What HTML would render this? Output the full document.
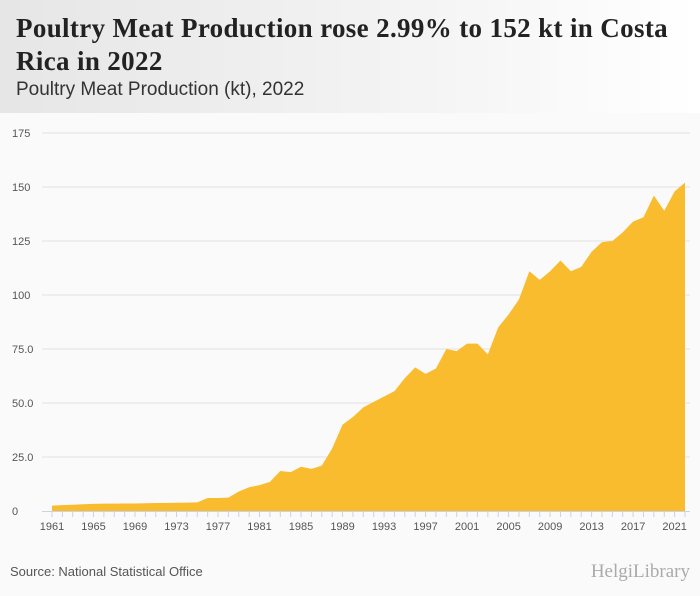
<!DOCTYPE html>
<html><head><meta charset="utf-8"><style>
body{margin:0;width:700px;height:596px;background:#fafafa;font-family:"Liberation Sans",sans-serif;overflow:hidden;position:relative}
#hdr{position:absolute;left:0;top:0;width:700px;height:113px;background:linear-gradient(90deg,#e6e6e6,#f4f4f4 60%,#fff)}
#title{position:absolute;left:16px;top:12px;font:bold 27px/33px "Liberation Serif",serif;letter-spacing:0.35px;color:#222;width:680px}
#sub{position:absolute;left:16px;top:79px;font-size:19px;color:#333}
#src{position:absolute;left:10px;top:564px;font-size:13px;color:#555}
#logo{position:absolute;right:10px;top:561px;font:19px "Liberation Serif",serif;color:#aaa}
</style></head><body>
<div id="hdr"></div>
<div id="title">Poultry Meat Production rose 2.99% to 152 kt in Costa Rica in 2022</div>
<div id="sub">Poultry Meat Production (kt), 2022</div>
<svg id="chart" width="700" height="596" style="position:absolute;left:0;top:0"></svg>
<div id="src">Source: National Statistical Office</div>
<div id="logo">HelgiLibrary</div>
<script>
const years=[];for(let y=1961;y<=2022;y++)years.push(y);
const values=[2.5,2.7,2.9,3.1,3.3,3.4,3.4,3.5,3.5,3.6,3.7,3.7,3.8,3.9,4,6,6,6.2,9,11,12,13.5,18.5,18,20.5,19.5,21,29,40,43.5,48,50.5,53,55.5,61.5,66.5,63.5,66,75,74,77.5,77.5,72.5,85,91,98,111,107,111,116,111,113,120,124.5,125,129,134,136,146,139,148,152];
const yTicks=[0,25,50,75,100,125,150,175];
const yTickLabels=["0","25.0","50.0","75.0","100","125","150","175"];
const NS="http://www.w3.org/2000/svg";
const svg=document.getElementById('chart');
const x=yr=>52+(yr-1961)*(685-52)/61;
const y=v=>511-v*378/175;
function mk(t,a){const e=document.createElementNS(NS,t);for(const k in a)e.setAttribute(k,a[k]);svg.appendChild(e);return e;}
yTicks.forEach((t,i)=>{
  if(t>0){const g=mk('line',{x1:42,x2:690,y1:y(t),y2:y(t),stroke:'#e2e2e2'});
  
  }
  const l=mk('text',{x:12,y:y(t)+4,'font-size':11,fill:'#555','font-family':'Liberation Sans'});
  l.textContent=yTickLabels[i];
  
  
});
let d='M'+x(years[0])+','+y(0);
years.forEach((yr,i)=>{d+='L'+x(yr)+','+y(values[i]);});
d+='L'+x(years[years.length-1])+','+y(0)+'Z';
const area=mk('path',{d:d,fill:'#f9bc2f'});


const ax=mk('line',{x1:42,x2:690,y1:511.5,y2:511.5,stroke:'#c8d3e6'});


years.forEach(yr=>{
  const tk=mk('line',{x1:x(yr),x2:x(yr),y1:511,y2:517,stroke:'#c8d3e6'});
  
  
  if((yr-1961)%4===0){
    const l=mk('text',{x:x(yr),y:530,'font-size':11,fill:'#555','text-anchor':'middle','font-family':'Liberation Sans'});
    l.textContent=yr;
    
    
  }
});
</script>
</body></html>
